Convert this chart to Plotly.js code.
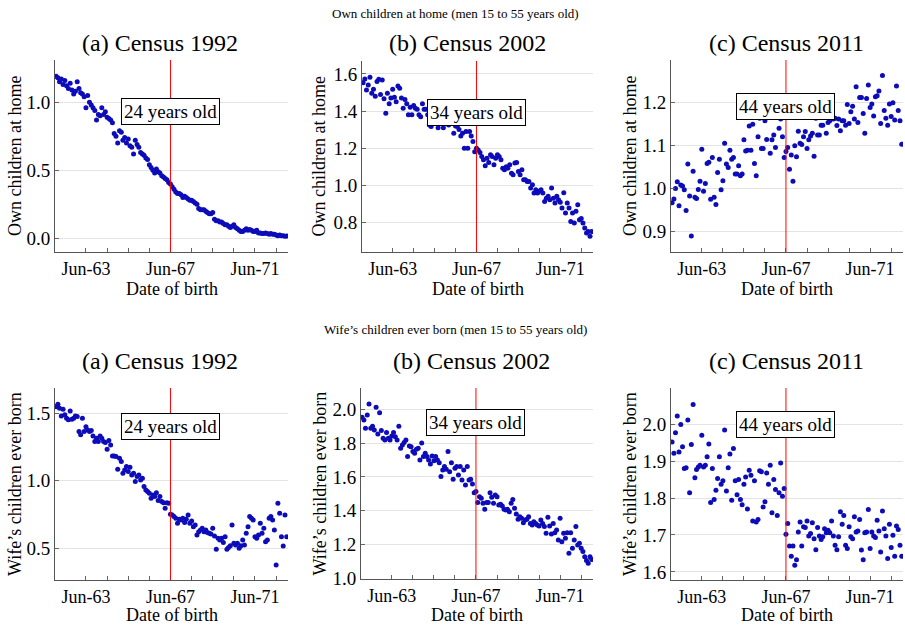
<!DOCTYPE html>
<html><head><meta charset="utf-8">
<script src="https://cdn.plot.ly/plotly-3.0.1.min.js"></script>
<style>html,body{margin:0;padding:0;background:#fff}</style>
</head><body><div id="chart" style="width:905px;height:625px"></div>
<script>
// ---- data ----
const startYear = 1962, endYear = 1972;
const months = [];
for (let y = startYear; y <= endYear; y++) for (let m = 1; m <= 12; m++) months.push(y + '-' + String(m).padStart(2, '0') + '-01');

const ownChildren1992 = [
1.19,1.18,1.15,1.17,1.13,1.16,1.12,1.10,1.14,1.09,1.06,1.08,
1.15,1.10,1.07,1.06,1.04,0.96,1.05,1.00,0.98,0.96,0.94,0.87,
0.91,0.90,0.96,0.91,0.93,0.89,0.88,0.87,0.85,0.77,0.75,0.70,
0.79,0.78,0.72,0.74,0.70,0.73,0.68,0.67,0.62,0.72,0.69,0.67,
0.63,0.62,0.61,0.59,0.58,0.54,0.52,0.50,0.48,0.51,0.49,0.48,
0.46,0.45,0.44,0.43,0.41,0.40,0.38,0.36,0.34,0.33,0.33,0.32,
0.30,0.31,0.30,0.29,0.28,0.28,0.27,0.26,0.25,0.22,0.21,0.21,
0.21,0.20,0.19,0.18,0.18,0.19,0.14,0.13,0.13,0.12,0.12,0.11,
0.10,0.10,0.09,0.08,0.09,0.10,0.08,0.07,0.06,0.05,0.05,0.06,
0.07,0.06,0.065,0.06,0.05,0.05,0.06,0.04,0.04,0.035,0.035,0.04,
0.035,0.03,0.035,0.03,0.03,0.025,0.02,0.025,0.02,0.02,0.015,0.018];
const ownChildren2002 = [
1.553,1.573,1.514,1.54,1.582,1.496,1.517,1.48,1.559,1.571,1.49,1.567,
1.466,1.388,1.496,1.44,1.47,1.517,1.475,1.45,1.535,1.523,1.47,1.415,
1.463,1.44,1.38,1.42,1.38,1.43,1.415,1.41,1.38,1.37,1.44,1.41,
1.41,1.38,1.325,1.317,1.38,1.39,1.41,1.31,1.36,1.335,1.31,1.36,
1.345,1.325,1.345,1.35,1.28,1.32,1.317,1.30,1.265,1.28,1.20,1.29,
1.20,1.29,1.265,1.236,1.18,1.20,1.19,1.177,1.155,1.137,1.105,1.146,
1.123,1.164,1.155,1.11,1.146,1.164,1.155,1.137,1.092,1.083,1.10,1.092,
1.11,1.065,1.056,1.12,1.123,1.074,1.056,1.083,1.03,1.03,1.02,1.02,
0.985,1.003,0.958,0.976,0.958,0.967,0.976,0.958,0.913,0.93,0.94,0.922,
0.985,0.93,0.904,0.94,0.922,0.908,0.877,0.96,0.85,0.904,0.877,0.805,
0.85,0.796,0.86,0.895,0.814,0.82,0.796,0.77,0.743,0.75,0.725,0.75];
const ownChildren2011 = [
0.967,0.976,1.0,1.016,0.96,1.008,1.006,0.997,0.949,1.057,0.983,0.89,
1.04,0.98,0.977,0.998,1.017,1.091,0.994,1.012,1.058,1.061,0.975,1.072,
0.98,0.963,1.037,1.068,0.997,1.018,1.105,1.057,1.049,1.089,1.068,1.072,
1.034,1.034,1.053,1.03,1.034,1.113,1.087,1.089,1.145,1.089,1.149,1.058,
1.03,1.12,1.163,1.093,1.093,1.157,1.114,1.165,1.082,1.113,1.124,1.095,
1.195,1.14,1.161,1.12,1.072,1.086,1.095,1.045,1.078,1.017,1.099,1.074,
1.133,1.105,1.102,1.12,1.132,1.093,1.113,1.122,1.128,1.075,1.163,1.124,
1.124,1.147,1.147,1.182,1.128,1.153,1.157,1.195,1.161,1.163,1.146,1.161,
1.134,1.157,1.157,1.147,1.195,1.151,1.178,1.191,1.161,1.236,1.153,1.211,
1.211,1.174,1.128,1.209,1.24,1.188,1.196,1.168,1.213,1.215,1.226,1.151,
1.262,1.181,1.163,1.147,1.196,1.167,1.199,1.159,1.238,1.181,1.157,1.103];
const wifeChildren1992 = [
1.549,1.567,1.537,1.48,1.53,1.488,1.463,1.451,1.517,1.456,1.463,1.48,
1.475,1.364,1.34,1.463,1.364,1.40,1.376,1.364,1.372,1.332,1.29,1.315,
1.29,1.332,1.315,1.29,1.283,1.233,1.298,1.265,1.184,1.184,1.179,1.085,
1.167,1.142,1.056,1.08,1.105,1.068,1.10,1.043,1.056,0.994,1.031,1.043,
1.006,1.019,0.957,0.932,0.92,0.907,0.87,0.895,0.883,0.912,0.853,0.883,
0.846,0.838,0.796,0.838,0.833,0.752,0.747,0.735,0.722,0.685,0.715,0.71,
0.722,0.69,0.715,0.747,0.685,0.702,0.66,0.673,0.599,0.623,0.636,0.648,
0.623,0.636,0.616,0.611,0.606,0.648,0.59,0.493,0.574,0.562,0.574,0.542,
0.586,0.493,0.506,0.518,0.673,0.537,0.525,0.537,0.501,0.518,0.562,0.525,
0.611,0.66,0.735,0.722,0.71,0.586,0.574,0.599,0.685,0.611,0.648,0.549,
0.562,0.722,0.735,0.71,0.636,0.376,0.833,0.759,0.586,0.517,0.747,0.586];
const wifeChildren2002 = [
1.953,1.937,1.888,1.966,2.032,1.888,1.90,1.878,2.012,1.854,1.98,1.874,
1.828,1.819,1.862,1.828,1.819,1.842,1.862,1.838,1.819,1.90,1.769,1.789,
1.803,1.819,1.72,1.783,1.779,1.75,1.74,1.763,1.769,1.70,1.80,1.72,
1.74,1.72,1.70,1.677,1.724,1.696,1.72,1.70,1.684,1.602,1.641,1.661,
1.645,1.75,1.631,1.684,1.586,1.651,1.661,1.611,1.661,1.582,1.641,1.552,
1.661,1.582,1.586,1.558,1.507,1.513,1.448,1.483,1.473,1.444,1.408,1.448,
1.448,1.507,1.479,1.444,1.493,1.483,1.434,1.438,1.428,1.408,1.404,1.408,
1.394,1.444,1.467,1.414,1.381,1.349,1.365,1.355,1.329,1.345,1.349,1.365,
1.325,1.316,1.335,1.325,1.316,1.31,1.345,1.325,1.306,1.266,1.361,1.31,
1.262,1.325,1.27,1.286,1.227,1.355,1.217,1.266,1.237,1.27,1.148,1.27,
1.178,1.227,1.306,1.197,1.207,1.178,1.158,1.128,1.105,1.089,1.128,1.112];
const wifeChildren2011 = [
1.952,1.921,1.977,2.022,1.925,1.999,1.939,1.88,1.882,2.011,1.814,1.945,
2.053,1.855,1.877,1.884,1.889,1.97,1.884,1.889,1.912,1.946,1.788,1.88,
1.796,1.821,1.853,1.912,1.837,1.847,1.984,1.819,1.882,1.919,1.794,1.934,
1.847,1.809,1.85,1.796,1.782,1.837,1.857,1.77,1.875,1.862,1.738,1.847,
1.735,1.742,1.874,1.871,1.776,1.79,1.868,1.837,1.889,1.76,1.85,1.823,
1.753,1.814,1.895,1.805,1.826,1.702,1.731,1.67,1.642,1.67,1.618,1.633,
1.708,1.735,1.67,1.722,1.72,1.738,1.697,1.704,1.733,1.69,1.66,1.72,
1.697,1.688,1.695,1.717,1.706,1.713,1.706,1.738,1.697,1.672,1.66,1.695,
1.763,1.729,1.753,1.672,1.663,1.722,1.695,1.69,1.749,1.708,1.711,1.742,
1.659,1.633,1.706,1.708,1.769,1.663,1.708,1.697,1.693,1.74,1.711,1.654,
1.765,1.717,1.697,1.636,1.729,1.666,1.699,1.642,1.724,1.715,1.672,1.642];

const panelTitles = ['(a) Census 1992', '(b) Census 2002', '(c) Census 2011'];
const ageLabels = ['24 years old', '34 years old', '44 years old'];
const rowTitles = ['Own children at home (men 15 to 55 years old)', 'Wife\u2019s children ever born (men 15 to 55 years old)'];
const yTitles = ['Own children at home', 'Wife\u2019s children ever born'];
const xTitle = 'Date of birth';
const cutoffDate = '1967-06-01';
const xTickVals = ['1963-06-01','1964-06-01','1965-06-01','1966-06-01','1967-06-01','1968-06-01','1969-06-01','1970-06-01','1971-06-01','1972-06-01'];
const xTickText = ['Jun-63','','','','Jun-67','','','','Jun-71',''];
const yTicks = [[0,0.5,1.0],[0.8,1.0,1.2,1.4,1.6],[0.9,1.0,1.1,1.2],[0.5,1.0,1.5],[1.0,1.2,1.4,1.6,1.8,2.0],[1.6,1.7,1.8,1.9,2.0]];
const yRanges = [[-0.1,1.31],[0.64,1.67],[0.853,1.298],[0.265,1.687],[0.996,2.126],[1.578,2.098]];
const series = [ownChildren1992, ownChildren2002, ownChildren2011, wifeChildren1992, wifeChildren2002, wifeChildren2011];

// ---- layout geometry (pixels) ----
const W = 905, H = 625;
const px = v => v / W, py = v => 1 - v / H;
const xDom = [[55,288],[362,593],[671,903],[55,288],[361,593],[671,903]];
const yDom = [[60,252],[61,252],[60,252],[388,580],[388,579],[388,580]];
const titleX = [160,468,786,160,471,786];
const yTitleX = [15,319,630,15,320,630];
const boxY = [0.80,0.80,0.83,0.87,0.89,0.88];
const serif = 'Liberation Serif';
const dotColor = 'rgb(12,12,185)';

const data = [], shapes = [], annotations = [];
const layout = {
  width: W, height: H, margin: {l:0,r:0,t:0,b:0},
  paper_bgcolor: '#fff', plot_bgcolor: '#fff', showlegend: false,
  font: {family: serif, size: 18, color: '#000'}
};
for (let k = 0; k < 6; k++) {
  const s = k === 0 ? '' : String(k + 1);
  data.push({type:'scatter', mode:'markers', x: months, y: series[k], xaxis:'x'+s, yaxis:'y'+s,
    marker:{size:5, color:dotColor}, hoverinfo:'x+y'});
  layout['xaxis'+s] = {domain:[px(xDom[k][0]), px(xDom[k][1])], anchor:'y'+s, type:'date',
    range:['1961-12-13','1972-12-23'], tickmode:'array', tickvals: xTickVals, ticktext: xTickText,
    ticks:'inside', ticklen:4, tickcolor:'#666', showline:true, linecolor:'#555', linewidth:1,
    showgrid:false, zeroline:false, tickfont:{family:serif, size:18, color:'#000'}};
  layout['yaxis'+s] = {domain:[py(yDom[k][1]), py(yDom[k][0])], anchor:'x'+s,
    range: yRanges[k], tickmode:'array', tickvals: yTicks[k], tickformat:'.1f',
    ticks:'inside', ticklen:4, tickcolor:'#666', showline:true, linecolor:'#555', linewidth:1,
    showgrid:true, gridcolor:'#e3e3e3', gridwidth:1, zeroline:false,
    tickfont:{family:serif, size:19, color:'#000'}};
  shapes.push({type:'line', xref:'x'+s, yref:'y'+s+' domain', x0:cutoffDate, x1:cutoffDate, y0:0, y1:1,
    line:{color:'#ff0000', width:1}});
  annotations.push({xref:'x'+s, yref:'y'+s+' domain', x:cutoffDate, y:boxY[k], text: ageLabels[k%3],
    showarrow:false, bgcolor:'#fff', bordercolor:'#000', borderwidth:1, borderpad:2,
    font:{family:serif, size:19, color:'#000'}});
  const row = k < 3 ? 0 : 1;
  annotations.push({xref:'paper', yref:'paper', x: px(titleX[k]), y: py(row ? 361 : 43), text: panelTitles[k%3],
    showarrow:false, xanchor:'center', yanchor:'middle', font:{family:serif, size:24, color:'#000'}});
  annotations.push({xref:'paper', yref:'paper', x: px(yTitleX[k]), y: py((yDom[k][0]+yDom[k][1])/2), text: yTitles[row],
    textangle:-90, showarrow:false, xanchor:'center', yanchor:'middle', font:{family:serif, size:18, color:'#000'}});
  annotations.push({xref:'paper', yref:'paper', x: px((xDom[k][0]+xDom[k][1])/2), y: py(row ? 615 : 289), text: xTitle,
    showarrow:false, xanchor:'center', yanchor:'middle', font:{family:serif, size:18, color:'#000'}});
}
annotations.push({xref:'paper', yref:'paper', x: px(455), y: py(14), text: rowTitles[0], showarrow:false,
  xanchor:'center', yanchor:'middle', font:{family:serif, size:13, color:'#000'}});
annotations.push({xref:'paper', yref:'paper', x: px(455), y: py(329), text: rowTitles[1], showarrow:false,
  xanchor:'center', yanchor:'middle', font:{family:serif, size:13, color:'#000'}});
layout.shapes = shapes;
layout.annotations = annotations;
Plotly.newPlot('chart', data, layout, {staticPlot:true, displayModeBar:false});
</script></body></html>
